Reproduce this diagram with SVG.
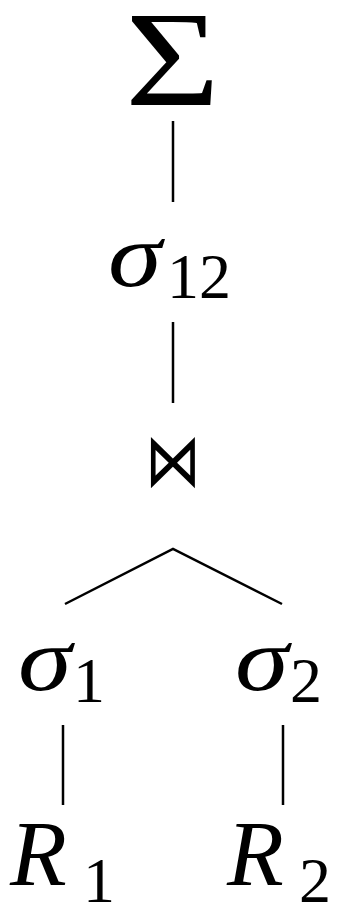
<svg xmlns="http://www.w3.org/2000/svg" width="340" height="905" viewBox="0 0 340 905">
<style>
.m{font-family:"Liberation Serif","DejaVu Serif",serif;font-style:italic;font-size:92px;fill:#000}
.r{font-family:"Liberation Serif","DejaVu Serif",serif;font-style:italic;font-size:93px;fill:#000}
.s{font-family:"Liberation Serif","DejaVu Serif",serif;font-size:64px;fill:#000}
.u{font-family:"Liberation Serif","DejaVu Serif",serif;font-size:136px;fill:#000}
.b{font-family:"DejaVu Sans",sans-serif;font-size:56px;fill:#000}
.e{stroke:#000;stroke-width:2.5;fill:none}
</style>
<rect width="340" height="905" fill="#fff"/>
<g id="connectors">
<line class="e" x1="173" y1="121" x2="173" y2="202"/>
<line class="e" x1="173" y1="322" x2="173" y2="403"/>
<polyline class="e" points="65,604 173,549 282,604"/>
<line class="e" x1="63" y1="725" x2="63" y2="805"/>
<line class="e" x1="283" y1="725" x2="283" y2="805"/>
</g>
<g id="sum"><text class="u" transform="translate(172.5,105) scale(1.2,1)" text-anchor="middle">Σ</text></g>
<g id="sigma12"><text class="m" transform="translate(108,286) scale(1.18,1)">σ</text><text class="s" x="167" y="298">12</text></g>
<g id="join"><text class="b" transform="translate(173,486) scale(1,1.33)" text-anchor="middle">⋈</text></g>
<g id="sigma1"><text class="m" transform="translate(18,690) scale(1.18,1)">σ</text><text class="s" x="73" y="702">1</text></g>
<g id="sigma2"><text class="m" transform="translate(235,690) scale(1.18,1)">σ</text><text class="s" x="290" y="702">2</text></g>
<g id="R1"><text class="r" x="10" y="885">R</text><text class="s" x="83" y="902">1</text></g>
<g id="R2"><text class="r" x="227" y="885">R</text><text class="s" x="299" y="902">2</text></g>
</svg>
